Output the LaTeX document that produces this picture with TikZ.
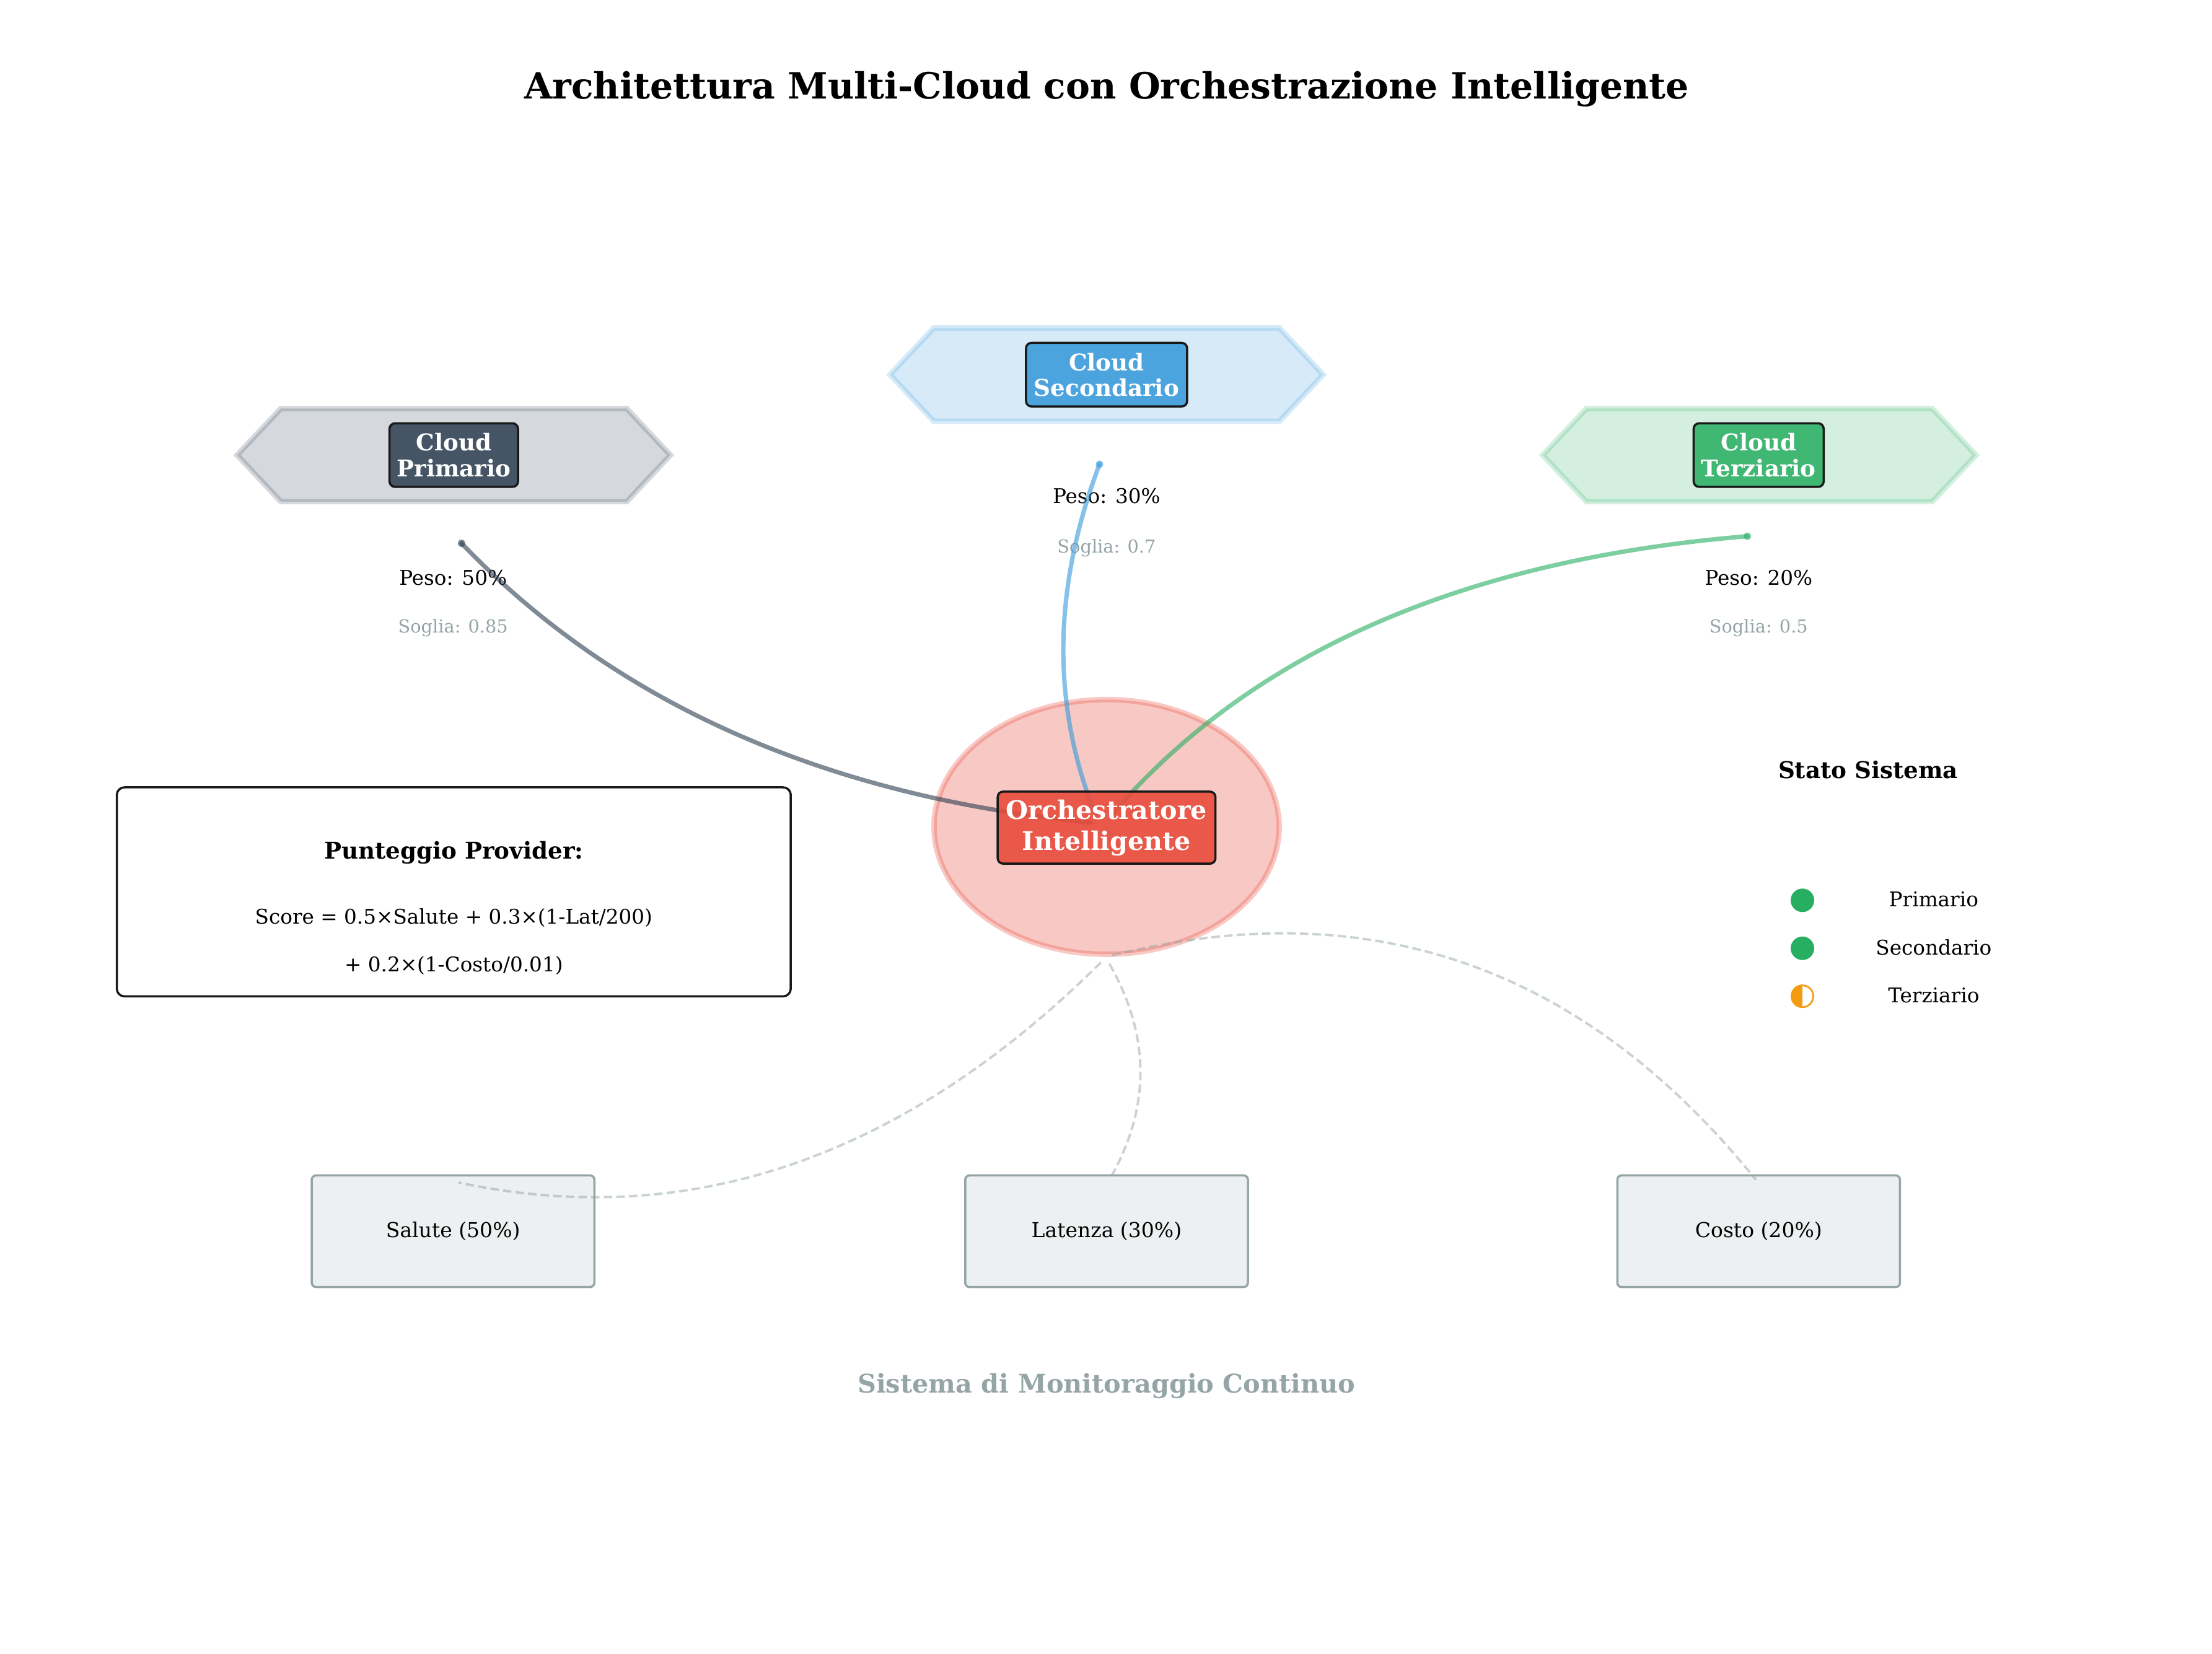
\documentclass[tikz,border=0pt]{standalone}
\usepackage{fontspec}
\setmainfont{DejaVu Serif}
\usetikzlibrary{shapes.geometric}
\definecolor{cdark}{HTML}{2C3E50}
\definecolor{cblue}{HTML}{3498DB}
\definecolor{cgreen}{HTML}{27AE60}
\definecolor{cred}{HTML}{E74C3C}
\definecolor{cgray}{HTML}{95A5A6}
\definecolor{clight}{HTML}{ECF0F1}
\definecolor{corange}{HTML}{F39C12}
\newcommand{\cloudhex}[2]{\draw[hexshape, draw=#2, fill=#2, shift={#1}] (-153.5,0) -- (-122.5,-33) -- (122.5,-33) -- (153.5,0) -- (122.5,33) -- (-122.5,33) -- cycle;}
\begin{document}
\begin{tikzpicture}[x=0.02278cm, y=-0.02278cm,
  hexshape/.style={line width=2.5pt, fill opacity=0.2, draw opacity=0.2, line join=miter},
  lbl/.style={draw=black!90, line width=1pt, rounded corners=2.5pt, fill opacity=0.85, draw opacity=1, text opacity=1, text=white, font=\fontsize{10.6}{11.7}\selectfont\bfseries, align=center, inner sep=0pt, minimum height=29.2pt},
  wt/.style={font=\fontsize{9.3}{11}\selectfont, inner sep=0pt, text height=0.75em, text depth=0.22em},
  st/.style={font=\fontsize{8.2}{10}\selectfont, text=cgray, inner sep=0pt, text height=0.75em, text depth=0.22em},
  bt/.style={font=\fontsize{10.6}{12}\selectfont\bfseries, inner sep=0pt, text height=0.75em, text depth=0.22em},
  link/.style={line width=2pt, draw opacity=0.6, line cap=round},
  enddot/.style={fill opacity=0.6},
  mon/.style={draw=cgray, draw opacity=0.5, line width=1.1pt, dash pattern=on 3.9pt off 1.9pt},
  metric/.style={draw=cgray, fill=clight, line width=1pt, rounded corners=2pt, minimum width=129.8pt, minimum height=51.3pt, inner sep=0pt, font=\fontsize{9.4}{11}\selectfont},
  dot/.style={circle, inner sep=0pt, minimum size=10.8pt}
]
\useasboundingbox (0,0) rectangle (1567.2,1172.1);

% title
\node[font=\fontsize{16.6}{19}\selectfont\bfseries, inner sep=0pt, text height=0.75em, text depth=0.22em] (title) at (784,66) {Architettura Multi-Cloud con Orchestrazione Intelligente};

% cloud hexagons
\cloudhex{(321.5,322.5)}{cdark}
\cloudhex{(784,265.5)}{cblue}
\cloudhex{(1246.5,322.5)}{cgreen}

% cloud labels
\node[lbl, fill=cdark, minimum width=59pt] (cp) at (321.5,322.5) {Cloud\\Primario};
\node[lbl, fill=cblue, minimum width=74pt] (cs) at (784,265.5) {Cloud\\Secondario};
\node[lbl, fill=cgreen, minimum width=59.7pt] (ct) at (1246,322.5) {Cloud\\Terziario};

% weights
\node[wt] (pp) at (321,410.5) {Peso: 50\%};
\node[st] (sp) at (321,444.5) {Soglia: 0.85};
\node[wt] (ps) at (784,352.5) {Peso: 30\%};
\node[st] (ss) at (784,387.5) {Soglia: 0.7};
\node[wt] (pt) at (1246,410.5) {Peso: 20\%};
\node[st] (stt) at (1246,444.5) {Soglia: 0.5};

% orchestrator background
\node[ellipse, draw=cred, fill=cred, fill opacity=0.3, draw opacity=0.3, line width=2.5pt, minimum width=158.5pt, minimum height=117pt, inner sep=0pt] (orchbg) at (784,586) {};

% links
\coordinate (s1) at (327,385); \coordinate (e1) at (773,583);
\coordinate (s2) at (779,329); \coordinate (e2) at (776,577);
\coordinate (s3) at (1238,380); \coordinate (e3) at (787,578);
\draw[link, cdark] (s1) .. controls (435.7,498.3) and (584.3,564.3) .. (e1);
\draw[link, cblue] (s2) .. controls (746,416.3) and (744.7,499) .. (e2);
\draw[link, cgreen] (s3) .. controls (1036,396.7) and (885.7,462.7) .. (e3);
\fill[cdark, enddot] (s1) circle[radius=1.7pt];
\fill[cblue, enddot] (s2) circle[radius=1.7pt];
\fill[cgreen, enddot] (s3) circle[radius=1.7pt];

% orchestrator label
\node[lbl, fill=cred, fill opacity=0.9, minimum width=100pt, minimum height=33.1pt, font=\fontsize{11.75}{14.3}\selectfont\bfseries] (orch) at (784,586.5) {Orchestratore\\Intelligente};

% formula box
\node[draw=black!90, fill=white, line width=1pt, rounded corners=3.5pt, minimum width=309.5pt, minimum height=96pt, inner sep=0pt] (fbox) at (321.5,632) {};
\node[bt] (ftitle) at (321.5,604.5) {Punteggio Provider:};
\node[wt] (fl1) at (321.5,650.5) {Score = 0.5×Salute + 0.3×(1-Lat/200)};
\node[wt] (fl2) at (321.5,684.5) {+ 0.2×(1-Costo/0.01)};

% legend
\node[bt] (leg) at (1323.5,547.5) {Stato Sistema};
\node[dot, fill=cgreen] (d1) at (1277,638) {};
\node[dot, fill=cgreen] (d2) at (1277,672) {};
\node[dot, draw=corange, line width=0.8pt, minimum size=10pt] (d3) at (1277,706) {};
\fill[corange] (d3.north) arc[start angle=90, end angle=270, radius=5pt] -- cycle;
\node[wt] (l1) at (1370,638.5) {Primario};
\node[wt] (l2) at (1370,672.5) {Secondario};
\node[wt] (l3) at (1370,706.5) {Terziario};

% metric boxes
\node[metric] (msal) at (321,872.5) {Salute (50\%)};
\node[metric] (mlat) at (784,872.5) {Latenza (30\%)};
\node[metric] (mcos) at (1246,872.5) {Costo (20\%)};

% monitoring links
\coordinate (m1) at (780,682); \coordinate (n1) at (325,838);
\coordinate (m2) at (786,683); \coordinate (n2) at (786,836);
\coordinate (m3) at (788,677); \coordinate (n3) at (1244,836);
\draw[mon] (m1) .. controls (640,820.7) and (488.3,872.7) .. (n1);
\draw[mon] (m2) .. controls (815.3,734.3) and (815.3,785.3) .. (n2);
\draw[mon] (m3) .. controls (969.3,632) and (1121.3,684) .. (n3);

% footer
\node[font=\fontsize{11.8}{14}\selectfont\bfseries, text=cgray, inner sep=0pt, text height=0.75em, text depth=0.22em] (foot) at (784,983) {Sistema di Monitoraggio Continuo};
\end{tikzpicture}
\end{document}
